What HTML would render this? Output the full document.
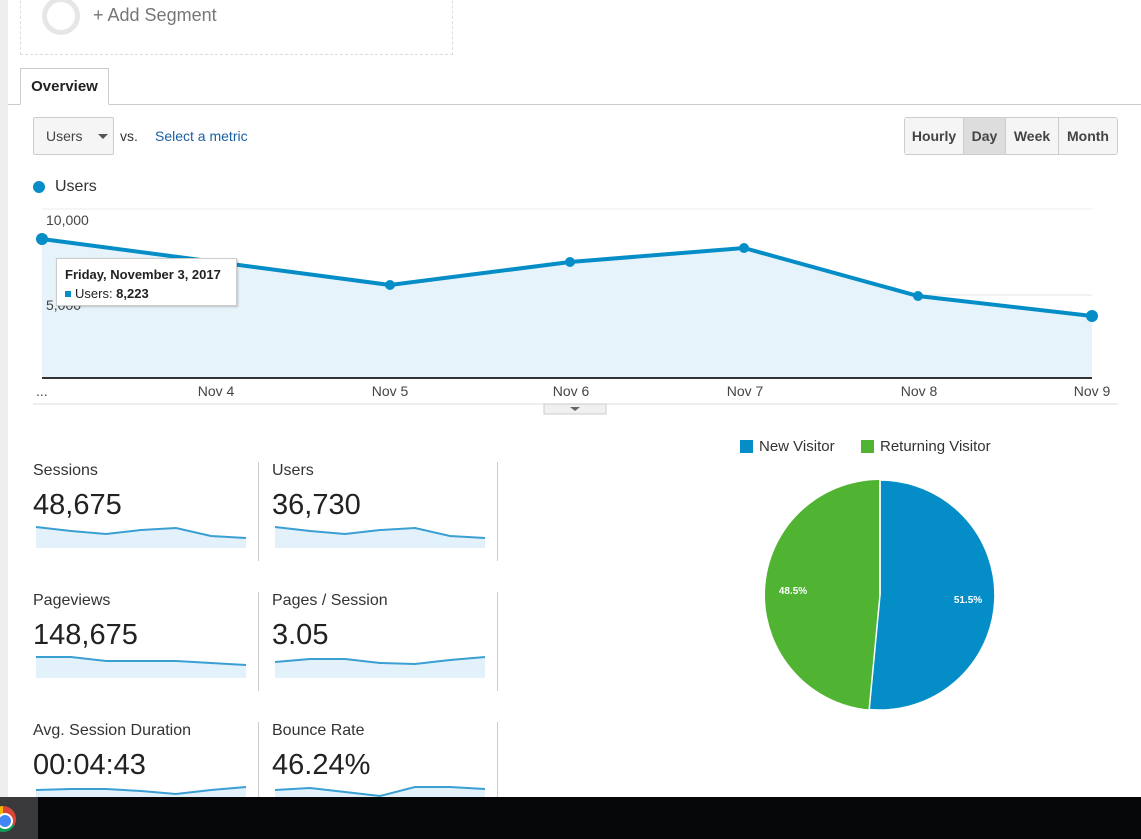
<!DOCTYPE html>
<html><head><style>
body{margin:0;width:1141px;height:839px;overflow:hidden;background:#fff;font-family:"Liberation Sans",Arial,sans-serif;position:relative;color:#222}
.a{position:absolute}
.lbl{font-size:16px;color:#333}
.big{font-size:29px;color:#222}
.btn{border:1px solid #ccc;background:#f5f5f5;font-size:14px;font-weight:bold;color:#444;text-align:center;line-height:36px;box-sizing:border-box;height:38px}
</style></head><body>
<div class="a" style="left:0;top:0;width:8px;height:797px;background:#eee"></div>
<div class="a" style="left:20px;top:-10px;width:431px;height:64px;border:1px dashed #ddd;border-top:none"></div>
<div class="a" style="left:42px;top:-3px;width:28px;height:28px;border:5px solid #e6e6e6;border-radius:50%"></div>
<div class="a" style="left:93px;top:5px;font-size:18px;color:#777">+ Add Segment</div>
<div class="a" style="left:8px;top:104px;width:1133px;height:1px;background:#ccc"></div>
<div class="a" style="left:20px;top:68px;width:89px;height:37px;border:1px solid #ccc;border-bottom:1px solid #fff;background:#fff;box-sizing:border-box;font-weight:bold;font-size:15px;line-height:36px;text-align:center">Overview</div>
<div class="a" style="left:33px;top:117px;width:81px;height:38px;border:1px solid #ccc;border-radius:2px;background:#f5f5f5;box-sizing:border-box;font-size:14px;color:#444;line-height:36px;padding-left:12px">Users <span style="display:inline-block;margin-left:12px;border:5px solid transparent;border-top:5px solid #555;vertical-align:-3px"></span></div>
<div class="a" style="left:120px;top:128px;font-size:14px;color:#333">vs.</div>
<div class="a" style="left:155px;top:128px;font-size:14px;color:#1a5fa6">Select a metric</div>
<div class="a" style="left:904px;top:117px;width:214px;height:38px;display:flex;border-radius:3px;overflow:hidden">
<div class="btn" style="width:60px">Hourly</div><div class="btn" style="width:42px;background:#ddd;border-left:none">Day</div><div class="btn" style="width:53px;border-left:none">Week</div><div class="btn" style="width:59px;border-left:none">Month</div></div>
<div class="a" style="left:33px;top:181px;width:12px;height:12px;border-radius:50%;background:#058dc7"></div>
<div class="a" style="left:55px;top:178px;font-size:16px;color:#333">Users</div>
<svg class="a" style="left:0;top:0" width="1141" height="420">
<line x1="42" y1="209" x2="1092" y2="209" stroke="#eee"/>
<line x1="42" y1="295" x2="1092" y2="295" stroke="#e4e4e4"/>
<polygon points="42,239 216,262 390,285 570,262 744,248 918,296 1092,316 1092,378 42,378" fill="#e6f3fa"/>
<polyline points="42,239 216,262 390,285 570,262 744,248 918,296 1092,316" fill="none" stroke="#058dc7" stroke-width="4"/>
<g fill="#058dc7"><circle cx="42" cy="239" r="6"/><circle cx="390" cy="285" r="5"/><circle cx="570" cy="262" r="5"/><circle cx="744" cy="248" r="5"/><circle cx="918" cy="296" r="5"/><circle cx="1092" cy="316" r="6"/></g>
<line x1="42" y1="378" x2="1092" y2="378" stroke="#333" stroke-width="2"/>
<line x1="33" y1="404" x2="1118" y2="404" stroke="#ddd"/>
<rect x="544" y="404" width="62" height="10" fill="#f0f0f0" stroke="#ccc"/>
<polygon points="570,407 580,407 575,411" fill="#666"/>
<g font-size="14" fill="#444" font-family="Liberation Sans,sans-serif"><text x="46" y="225">10,000</text><text x="46" y="310">5,000</text>
<text x="36" y="396">...</text><text x="216" y="396" text-anchor="middle">Nov 4</text><text x="390" y="396" text-anchor="middle">Nov 5</text><text x="571" y="396" text-anchor="middle">Nov 6</text><text x="745" y="396" text-anchor="middle">Nov 7</text><text x="919" y="396" text-anchor="middle">Nov 8</text><text x="1092" y="396" text-anchor="middle">Nov 9</text></g>
</svg>
<div class="a" style="left:56px;top:258px;width:181px;height:48px;background:#fff;border:1px solid #ccc;box-shadow:1px 1px 2px rgba(0,0,0,.2);box-sizing:border-box;font-size:13px;padding:6px 0 0 8px;line-height:19px">
<b>Friday, November 3, 2017</b><br><span style="display:inline-block;width:6px;height:6px;background:#058dc7;margin-right:4px;vertical-align:1px"></span>Users: <b>8,223</b></div>
<!-- metrics -->
<div class="a" style="left:258px;top:462px;width:1px;height:99px;background:#ccc"></div>
<div class="a" style="left:497px;top:462px;width:1px;height:99px;background:#ccc"></div>
<div class="a" style="left:258px;top:592px;width:1px;height:99px;background:#ccc"></div>
<div class="a" style="left:497px;top:592px;width:1px;height:99px;background:#ccc"></div>
<div class="a" style="left:258px;top:722px;width:1px;height:80px;background:#ccc"></div>
<div class="a" style="left:497px;top:722px;width:1px;height:80px;background:#ccc"></div>
<div class="a lbl" style="left:33px;top:462px">Sessions</div><div class="a big" style="left:33px;top:489px">48,675</div>
<div class="a lbl" style="left:272px;top:462px">Users</div><div class="a big" style="left:272px;top:489px">36,730</div>
<div class="a lbl" style="left:33px;top:592px">Pageviews</div><div class="a big" style="left:33px;top:619px">148,675</div>
<div class="a lbl" style="left:272px;top:592px">Pages / Session</div><div class="a big" style="left:272px;top:619px">3.05</div>
<div class="a lbl" style="left:33px;top:722px">Avg. Session Duration</div><div class="a big" style="left:33px;top:749px">00:04:43</div>
<div class="a lbl" style="left:272px;top:722px">Bounce Rate</div><div class="a big" style="left:272px;top:749px">46.24%</div>
<svg class="a" style="left:0;top:0" width="600" height="800">
<g fill="#e3f1fa" stroke="none">
<polygon points="36,527 71,531 106,534 141,530 176,528 211,536 246,538 246,548 36,548"/>
<polygon points="275,527 310,531 345,534 380,530 415,528 450,536 485,538 485,548 275,548"/>
<polygon points="36,657 71,657 106,661 141,661 176,661 211,663 246,665 246,678 36,678"/>
<polygon points="275,662 310,659 345,659 380,663 415,664 450,660 485,657 485,678 275,678"/>
<polygon points="36,790 71,789 106,789 141,791 176,794 211,790 246,787 246,797 36,797"/>
<polygon points="275,790 310,788 345,792 380,796 415,787 450,787 485,789 485,797 275,797"/>
</g>
<g fill="none" stroke="#3a9fd3" stroke-width="2">
<polyline points="36,527 71,531 106,534 141,530 176,528 211,536 246,538"/>
<polyline points="275,527 310,531 345,534 380,530 415,528 450,536 485,538"/>
<polyline points="36,657 71,657 106,661 141,661 176,661 211,663 246,665"/>
<polyline points="275,662 310,659 345,659 380,663 415,664 450,660 485,657"/>
<polyline points="36,790 71,789 106,789 141,791 176,794 211,790 246,787"/>
<polyline points="275,790 310,788 345,792 380,796 415,787 450,787 485,789"/>
</g></svg>
<!-- pie -->
<div class="a" style="left:740px;top:440px;width:13px;height:13px;background:#058dc7"></div>
<div class="a" style="left:759px;top:438px;font-size:15px;color:#333">New Visitor</div>
<div class="a" style="left:861px;top:440px;width:13px;height:13px;background:#50b432"></div>
<div class="a" style="left:880px;top:438px;font-size:15px;color:#333">Returning Visitor</div>
<svg class="a" style="left:760px;top:475px" width="240" height="240">
<circle cx="120" cy="120" r="115" fill="#50b432"/>
<path d="M120,120 L120,5 A115,115 0 1 1 109.2,234.5 Z" fill="#058dc7" stroke="#fff" stroke-width="1.5"/>
<line x1="120" y1="120" x2="120" y2="5" stroke="#fff" stroke-width="1.5"/>
<text x="208" y="128" font-size="10" font-weight="bold" fill="#fff" text-anchor="middle" font-family="Liberation Sans,sans-serif">51.5%</text>
<text x="33" y="119" font-size="10" font-weight="bold" fill="#fff" text-anchor="middle" font-family="Liberation Sans,sans-serif">48.5%</text>
</svg>
<div class="a" style="left:0;top:797px;width:1141px;height:42px;background:#050608"></div>
<div class="a" style="left:0;top:797px;width:38px;height:42px;background:#3a3a3c"></div>
<div class="a" style="left:-10px;top:806px;width:26px;height:26px;border-radius:50%;background:conic-gradient(#db4437 0 120deg,#0f9d58 120deg 240deg,#f4b400 240deg)"></div>
<div class="a" style="left:-3px;top:813px;width:12px;height:12px;border-radius:50%;background:#4285f4;border:2px solid #fff"></div>
</body></html>
